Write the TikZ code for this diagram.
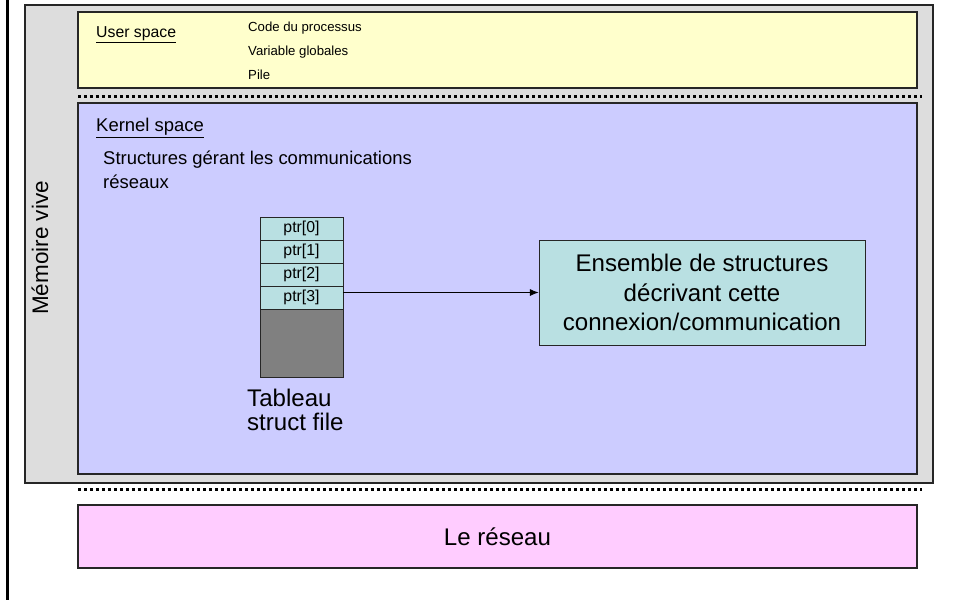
\documentclass[tikz,border=0pt]{standalone}
\usepackage{fontspec}
\setmainfont{Liberation Sans}
\usepackage{xcolor}
\usetikzlibrary{arrows.meta, positioning}
\definecolor{memgray}{HTML}{DDDDDD}
\definecolor{userbg}{HTML}{FFFFCC}
\definecolor{kernelbg}{HTML}{CCCCFF}
\definecolor{netbg}{HTML}{FFCCFF}
\definecolor{cellteal}{HTML}{B9E0E2}
\begin{document}
\begin{tikzpicture}[x=0.02cm, y=-0.02cm,
        area/.style={draw=black!85, line width=0.6pt},
        cell/.style={rectangle, draw=black!85, fill=cellteal, minimum width=1.66cm, minimum height=0.46cm, inner sep=0pt, outer sep=0pt, font=\fontsize{9}{9}\selectfont},
        box/.style={rectangle, draw=black!85, fill=cellteal, minimum width=6.52cm, minimum height=2.1cm, align=center, font=\fontsize{13.7}{17}\selectfont},
        sep/.style={line width=1.7pt, dash pattern=on 1.7pt off 1.7pt},
        arrow/.style={-{Latex[length=5pt, width=4pt]}, line width=0.5pt}
    ]
        \useasboundingbox (0,0) rectangle (953,600);
        \draw[line width=1.4pt] (7.3,0) -- (7.3,600);
        % memory areas
        \draw[area, fill=memgray] (25,5) rectangle (933,483);
        \draw[area, fill=userbg] (78,12) rectangle (917,88);
        \draw[sep] (78,96) -- (922,96);
        \draw[area, fill=kernelbg] (78,103) rectangle (917,474);
        \draw[sep] (78,489) -- (922,489);
        \draw[area, fill=netbg] (78,505) rectangle (917,568);
        \node[rotate=90, font=\fontsize{12.8}{14}\selectfont] (mem) at (40,248) {Mémoire vive};
        \node[anchor=west, font=\fontsize{9}{10}\selectfont] (user) at (90,35) {\underline{User space}};
        \node[anchor=west, align=left, font=\fontsize{7.5}{13.7}\selectfont] (userlist) at (242,51) {Code du processus\\Variable globales\\Pile};
        \node[anchor=west, font=\fontsize{10.5}{12}\selectfont] (kernel) at (90,128) {\underline{Kernel space}};
        \node[anchor=west, align=left, font=\fontsize{10.5}{13.7}\selectfont] (structs) at (97,170) {Structures gérant les communications\\réseaux};
        \node[font=\fontsize{13.7}{15}\selectfont] (net) at (497.5,537) {Le réseau};
        % struct file table
        \node[cell] (p0) at (301.5,228.5) {ptr[0]};
        \node[cell, below=0pt of p0] (p1) {ptr[1]};
        \node[cell, below=0pt of p1] (p2) {ptr[2]};
        \node[cell, below=0pt of p2] (p3) {ptr[3]};
        \node[cell, below=0pt of p3, fill=black!50, minimum height=1.36cm] (rest) {};
        \node[anchor=north west, align=left, font=\fontsize{13.7}{13.6}\selectfont] (tab) at (241,383) {Tableau\\struct file};
        \node[box] (conn) at (702,292.5) {Ensemble de structures\\décrivant cette\\connexion/communication};
        \draw[arrow] (conn.west -| p3.east) -- (conn.west);
    \end{tikzpicture}
\end{document}
